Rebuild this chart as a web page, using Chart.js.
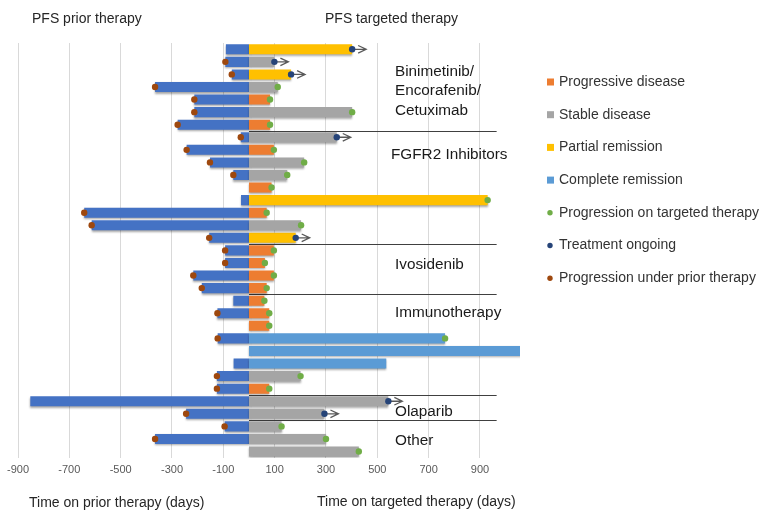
<!DOCTYPE html>
<html>
<head>
<meta charset="utf-8">
<script src="https://cdn.jsdelivr.net/npm/chart.js@4.4.1/dist/chart.umd.min.js"></script>
<style>
html,body{margin:0;padding:0;background:#fff;}
#wrap{width:764px;height:512px;position:relative;}
</style>
</head>
<body>
<div id="wrap"><canvas id="c" width="764" height="512"></canvas></div>
<script>
// ---------- DATA ----------
const patients = ['P1','P2','P3','P4','P5','P6','P7','P8','P9','P10','P11','P12','P13','P14','P15','P16','P17','P18','P19','P20','P21','P22','P23','P24','P25','P26','P27','P28','P29','P30','P31','P32','P33'];
const priorDays = [-90,-92,-67,-366,-213,-213,-278,-32,-243,-152,-61,null,-31,-642,-613,-155,-93,-93,-217,-184,-61,-123,null,-122,null,-60,-125,-125,-852,-245,-95,-366,null];
const priorProgressed = [0,1,1,1,1,1,1,1,1,1,1,0,0,1,1,1,1,1,1,1,0,1,0,1,0,0,1,1,0,1,1,1,0];
const responseType = ['PR','SD','PR','SD','PD','SD','PD','SD','PD','SD','SD','PD','PR','PD','SD','PR','PD','PD','PD','PD','PD','PD','PD','CR','CR','CR','SD','PD','SD','SD','SD','SD','SD'];
const targetedDays = [402,99,164,112,82,402,82,342,97,215,149,88,930,69,203,182,97,62,97,69,60,79,79,764,1080,535,201,79,543,294,127,300,428];
const targetedOutcome = ['ongoing','ongoing','ongoing','prog','prog','prog','prog','ongoing','prog','prog','prog','prog','prog','prog','prog','ongoing','prog','prog','prog','prog','prog','prog','prog','prog',null,null,'prog','prog','ongoing','ongoing','prog','prog','prog'];
const responseCodes = ['PD','SD','PR','CR'];
const responseLabels = ['Progressive disease','Stable disease','Partial remission','Complete remission'];
const markerLabels = ['Progression on targeted therapy','Treatment ongoing','Progression under prior therapy'];
const tickValues = [-900,-700,-500,-300,-100,100,300,500,700,900];
const groupNames = [['Binimetinib/','Encorafenib/','Cetuximab'],['FGFR2 Inhibitors'],['Ivosidenib'],['Immunotherapy'],['Olaparib'],['Other']];
const groupSizes = [7,9,4,8,2,3];
const headings = ['PFS prior therapy','PFS targeted therapy'];
const axisTitles = ['Time on prior therapy (days)','Time on targeted therapy (days)'];

// ---------- STYLE ----------
const FONT = "'Liberation Sans', Arial, Helvetica, sans-serif";
const responseColors = ['#ED7D31','#A5A5A5','#FFC000','#5B9BD5'];
const priorColor = '#4472C4';
const markerColors = ['#70AD47','#264478','#9E480E'];

// ---------- DATASETS ----------
const datasets = [];
responseCodes.forEach((code, k) => {
  datasets.push({
    type: 'bar', label: responseLabels[k], legend: true,
    data: targetedDays.map((v, i) => responseType[i] === code ? v : null),
    backgroundColor: responseColors[k], order: 2,
    barPercentage: 0.8, categoryPercentage: 1.0, grouped: false
  });
});
datasets.push({
  type: 'bar', label: 'Prior therapy', legend: false,
  data: priorDays, backgroundColor: priorColor, order: 3,
  barPercentage: 0.8, categoryPercentage: 1.0, grouped: false
});
const progPts = [], ongoingPts = [], priorPts = [];
patients.forEach((p, i) => {
  if (targetedOutcome[i] === 'prog') progPts.push({x: targetedDays[i], y: p});
  if (targetedOutcome[i] === 'ongoing') ongoingPts.push({x: targetedDays[i], y: p});
  if (priorProgressed[i]) priorPts.push({x: priorDays[i], y: p});
});
[progPts, ongoingPts, priorPts].forEach((pts, k) => {
  datasets.push({
    type: 'scatter', label: markerLabels[k], legend: true, arrows: k === 1,
    data: pts, backgroundColor: markerColors[k], borderColor: markerColors[k],
    pointRadius: 3.2, pointBorderWidth: 0, order: 0
  });
});

// ---------- ANNOTATION PLUGIN ----------
const annot = {
  id: 'annot',
  beforeDatasetDraw(chart, args) {
    const ds = chart.data.datasets[args.index];
    const ctx = chart.ctx;
    if (args.meta.type === 'bar') {
      ctx.save();
      ctx.shadowColor = 'rgba(0,0,0,0.35)';
      ctx.shadowBlur = 2;
      ctx.shadowOffsetY = 1.5;
    }
    if (ds.arrows) {
      ctx.save();
      ctx.strokeStyle = '#595959';
      ctx.lineWidth = 1.3;
      args.meta.data.forEach(el => {
        const x = el.x, y = el.y, L = 14;
        ctx.beginPath();
        ctx.moveTo(x, y); ctx.lineTo(x + L, y);
        ctx.moveTo(x + L - 8, y - 3.8); ctx.lineTo(x + L, y); ctx.lineTo(x + L - 8, y + 3.8);
        ctx.stroke();
      });
      ctx.restore();
    }
  },
  afterDatasetDraw(chart, args) {
    if (args.meta.type === 'bar') chart.ctx.restore();
  },
  beforeDatasetsDraw(chart) {
    const ctx = chart.ctx, xs = chart.scales.x, ys = chart.scales.y;
    ctx.save();
    ctx.strokeStyle = '#404040';
    ctx.lineWidth = 1;
    let cum = 0;
    groupSizes.forEach((n, g) => {
      cum += n;
      if (g === groupSizes.length - 1) return;
      const y = Math.round(ys.getPixelForValue(cum - 0.5)) + 0.5;
      ctx.beginPath();
      ctx.moveTo(xs.getPixelForValue(0), y);
      ctx.lineTo(xs.getPixelForValue(965), y);
      ctx.stroke();
    });
    ctx.restore();
  },
  afterDraw(chart) {
    const ctx = chart.ctx, ys = chart.scales.y;
    ctx.save();
    ctx.textBaseline = 'middle';
    ctx.textAlign = 'left';
    // headings
    ctx.fillStyle = '#262626';
    ctx.font = '14px ' + FONT;
    ctx.fillText(headings[0], 32, 19);
    ctx.fillText(headings[1], 325, 19);
    // axis titles
    ctx.fillText(axisTitles[0], 29, 503);
    ctx.fillText(axisTitles[1], 317, 502);
    // group labels
    ctx.font = '15.3px ' + FONT;
    ctx.fillStyle = '#1a1a1a';
    const anchors = [[1.77, 3.31, 4.91], [8.42], [17.11], [20.99], [28.81], [31.14]];
    const gx = [395, 391, 395, 395, 395, 395];
    groupNames.forEach((lines, g) => {
      lines.forEach((t, j) => ctx.fillText(t, gx[g], ys.getPixelForValue(anchors[g][j])));
    });
    // legend
    ctx.font = '14px ' + FONT;
    const items = chart.data.datasets.filter(d => d.legend);
    items.forEach((d, k) => {
      const y = 82 + k * 32.7;
      ctx.fillStyle = d.backgroundColor;
      if (d.type === 'bar') {
        ctx.fillRect(547, y - 3.5, 7, 7);
      } else {
        ctx.beginPath(); ctx.arc(550, y, 2.7, 0, Math.PI * 2); ctx.fill();
      }
      ctx.fillStyle = '#333333';
      ctx.fillText(d.label, 559, y);
    });
    ctx.restore();
  }
};

Chart.defaults.font.family = FONT;
new Chart(document.getElementById('c'), {
  type: 'bar',
  data: { labels: patients, datasets },
  options: {
    indexAxis: 'y',
    responsive: false,
    animation: false,
    layout: { padding: { left: 18, right: 244, top: 43, bottom: 29 } },
    plugins: { legend: { display: false }, tooltip: { enabled: false } },
    scales: {
      x: {
        type: 'linear', min: -900, max: 1056, offset: false,
        afterBuildTicks: s => { s.ticks = tickValues.map(v => ({ value: v })); },
        ticks: { color: '#595959', font: { size: 11 }, padding: 6, autoSkip: false, maxRotation: 0,
                 callback: v => String(v) },
        grid: { color: '#d9d9d9', drawTicks: false, offset: false },
        border: { display: false }
      },
      y: {
        type: 'category', offset: true, display: false,
        grid: { display: false }
      }
    }
  },
  plugins: [annot]
});
</script>
</body>
</html>
